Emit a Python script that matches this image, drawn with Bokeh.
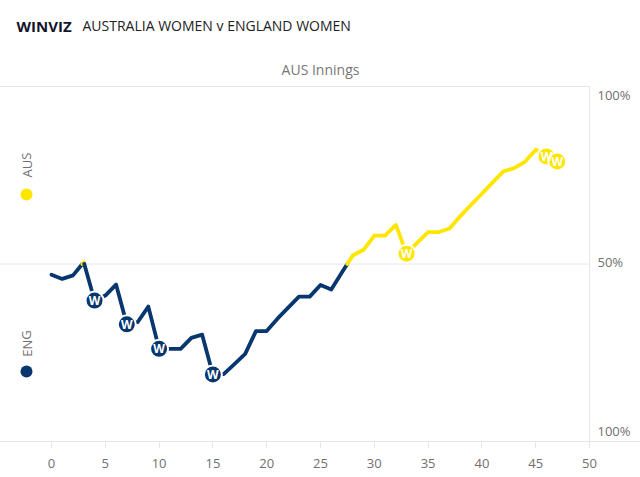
from bokeh.plotting import figure
from bokeh.models import Range1d, LinearAxis, FixedTicker, Label, ColumnDataSource
from bokeh.core.properties import value
from bokeh.embed import file_html
from bokeh.resources import INLINE

# ---------------- data ----------------
overs = list(range(0, 48))
aus_win_prob = [0.470, 0.458, 0.468, 0.505, 0.397, 0.411, 0.442, 0.330, 0.336, 0.380,
                0.261, 0.261, 0.261, 0.292, 0.301, 0.189, 0.190, 0.218, 0.247, 0.311,
                0.311, 0.346, 0.377, 0.408, 0.408, 0.441, 0.428, 0.477, 0.524, 0.540,
                0.580, 0.580, 0.610, 0.529, 0.560, 0.590, 0.590, 0.600, 0.635, 0.667,
                0.698, 0.730, 0.761, 0.770, 0.788, 0.822, 0.803, 0.789]
wicket_overs = [4, 7, 10, 15, 33, 46, 47]
x_ticks = [0, 5, 10, 15, 20, 25, 30, 35, 40, 45, 50]
y_tick_values = [1.0, 0.5, 0.0]
y_tick_labels = ["100%", "50%", "100%"]
teams = ["AUS", "ENG"]

AUS_COL = "#FFE600"
ENG_COL = "#07376E"
GRID = "#e6e6e6"
FONT = "Open Sans"

def colour(v):
    return AUS_COL if v >= 0.5 else ENG_COL

# split the line into runs by which side of 50% it lies
runs_x, runs_y, runs_c = [], [], []
cx, cy = [overs[0]], [aus_win_prob[0]]
cc = colour(aus_win_prob[0])
for i in range(1, len(overs)):
    x0, y0 = overs[i - 1], aus_win_prob[i - 1]
    x1, y1 = overs[i], aus_win_prob[i]
    if (y0 - 0.5) * (y1 - 0.5) < 0:
        t = (0.5 - y0) / (y1 - y0)
        xm = x0 + t * (x1 - x0)
        cx.append(xm); cy.append(0.5)
        runs_x.append(cx); runs_y.append(cy); runs_c.append(cc)
        cx, cy = [xm, x1], [0.5, y1]
        cc = colour(y1)
    else:
        cx.append(x1); cy.append(y1)
runs_x.append(cx); runs_y.append(cy); runs_c.append(cc)

# ---------------- figure ----------------
W, H = 640, 477
px_per_over = 10.76
x_left = -51 / px_per_over
x_right = (W - 51) / px_per_over
y_top = 441 / 355

p = figure(width=W, height=H, x_range=Range1d(x_left, x_right),
           y_range=Range1d(0, y_top), x_axis_type=None, y_axis_type=None,
           output_backend="svg", toolbar_location=None,
           min_border_left=0, min_border_right=0, min_border_top=0,
           min_border_bottom=H - 441)
p.outline_line_color = None
p.background_fill_color = "white"
p.border_fill_color = "white"

xaxis = LinearAxis(ticker=FixedTicker(ticks=x_ticks))
xaxis.axis_line_color = GRID
xaxis.major_tick_line_color = GRID
xaxis.major_tick_out = 7
xaxis.major_tick_in = 0
xaxis.minor_tick_line_color = None
xaxis.major_label_text_color = "#707070"
xaxis.major_label_text_font = FONT
xaxis.major_label_text_font_size = "13px"
xaxis.major_label_standoff = 10
p.add_layout(xaxis, "below")

# gridlines
p.segment(x0=[x_left - 1] * 2, y0=[1.0, 0.5], x1=[50, 50], y1=[1.0, 0.5],
          line_color=GRID, line_width=1)
p.segment(x0=[50], y0=[0], x1=[50], y1=[1.0], line_color=GRID, line_width=1)

# win probability line
p.multi_line(xs=runs_x, ys=runs_y, line_color=runs_c, line_width=3.8,
             line_join="round", line_cap="round")

# wickets
wk_y = [aus_win_prob[overs.index(o)] for o in wicket_overs]
wk_c = [colour(v) for v in wk_y]
src = ColumnDataSource(dict(x=wicket_overs, y=wk_y, c=wk_c, t=["W"] * len(wicket_overs)))
p.scatter("x", "y", source=src, size=18, fill_color="c", line_color="white", line_width=2)
p.text("x", "y", text="t", source=src, text_color="white", text_font=value(FONT),
       text_font_style="bold", text_font_size="12px", text_align="center",
       text_baseline="middle")

# legend on left
def px_x(px):
    return (px - 51) / px_per_over

def px_y(py):
    return (441 - py) / 355

p.scatter([px_x(26), px_x(26)], [px_y(194), px_y(371)], size=12,
          fill_color=[AUS_COL, ENG_COL], line_color=None)
for name, py in zip(teams, [164.5, 343]):
    p.add_layout(Label(x=px_x(26), y=px_y(py), text=name, angle=1.5708,
                       text_align="center", text_baseline="middle",
                       text_font=FONT, text_font_size="13px", text_color="#707070"))

# right labels
for v, lab, py in zip(y_tick_values, y_tick_labels, [94, 261, 430]):
    p.add_layout(Label(x=px_x(597), y=px_y(py), text=lab, text_align="left",
                       text_baseline="middle", text_font=FONT, text_font_size="13px",
                       text_color="#707070"))

# titles
p.add_layout(Label(x=px_x(16), y=px_y(25), text="WINVIZ", text_align="left",
                   text_baseline="middle", text_font=FONT, text_font_style="bold",
                   text_font_size="15px", text_color="#14142b"))
p.add_layout(Label(x=px_x(82), y=px_y(25), text="AUSTRALIA WOMEN v ENGLAND WOMEN",
                   text_align="left", text_baseline="middle", text_font=FONT,
                   text_font_size="14px", text_color="#222222"))
p.add_layout(Label(x=px_x(320), y=px_y(69), text="AUS Innings", text_align="center",
                   text_baseline="middle", text_font=FONT, text_font_size="14px",
                   text_color="#777777"))

open("out.html", "w").write(file_html(p, INLINE))
